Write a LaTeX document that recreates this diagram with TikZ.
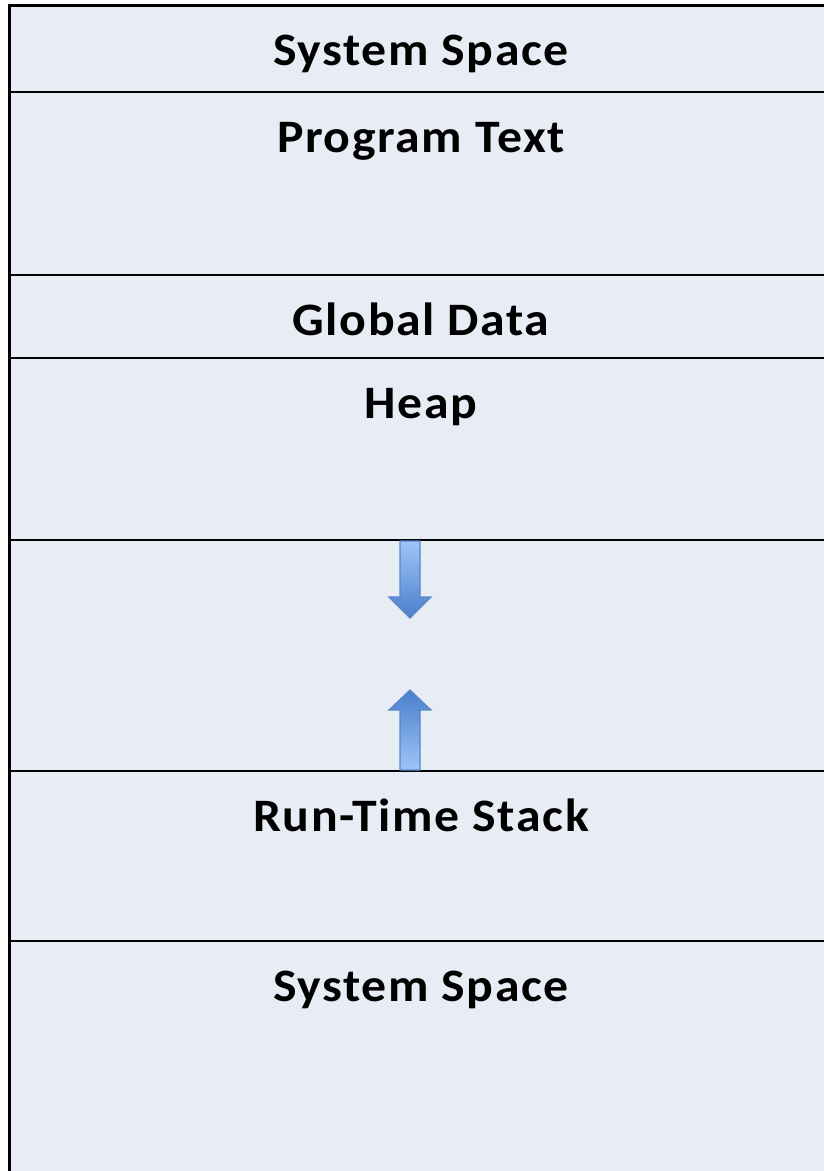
\documentclass[tikz,border=0pt]{standalone}
\usepackage{fontspec}
\setmainfont{Carlito}[LetterSpace=3.5, FakeStretch=1.07]
\definecolor{panel}{RGB}{232,236,244}
\definecolor{arrlight}{RGB}{160,197,248}
\definecolor{arrdark}{RGB}{74,127,203}
\definecolor{arredge}{RGB}{88,135,200}
\tikzset{
  divider/.style={line width=2.5pt, black},
  label/.style={anchor=base, font=\fontsize{46.5}{50}\selectfont\bfseries, inner sep=0pt},
  arrowshape/.style={draw=arredge, line width=1.2pt, line join=miter},
}
\begin{document}
\begin{tikzpicture}[x=1pt,y=-1pt]
\useasboundingbox (0,0) rectangle (824,1171);
\clip (0,0) rectangle (824,1171);
\fill[white] (0,0) rectangle (824,1171);
\fill[panel] (9,5) rectangle (840,1190);
% outer border
\draw[line width=3pt] (840,5) -- (9,5) -- (9,1190);
% dividers
\foreach \yy in {92,275,358,540,771,941}{
  \draw[divider] (9,\yy) -- (840,\yy);
}
% labels
\node[label] (sys1) at (421,65) {System Space};
\node[label] (prog) at (421,152) {Program Text};
\node[label] (glob) at (421,335) {Global Data};
\node[label] (heap) at (421,418) {Heap};
\node[label] (stack) at (421,831) {Run-Time Stack};
\node[label] (sys2) at (421,1001) {System Space};
% arrows
\shade[top color=arrlight, bottom color=arrdark, arrowshape]
  (400,541) -- (420,541) -- (420,597) -- (431,597) -- (410,618) -- (389,597) -- (400,597) -- cycle;
\shade[top color=arrdark, bottom color=arrlight, arrowshape]
  (400,770) -- (420,770) -- (420,710) -- (431,710) -- (410,690) -- (389,710) -- (400,710) -- cycle;
\end{tikzpicture}
\end{document}
